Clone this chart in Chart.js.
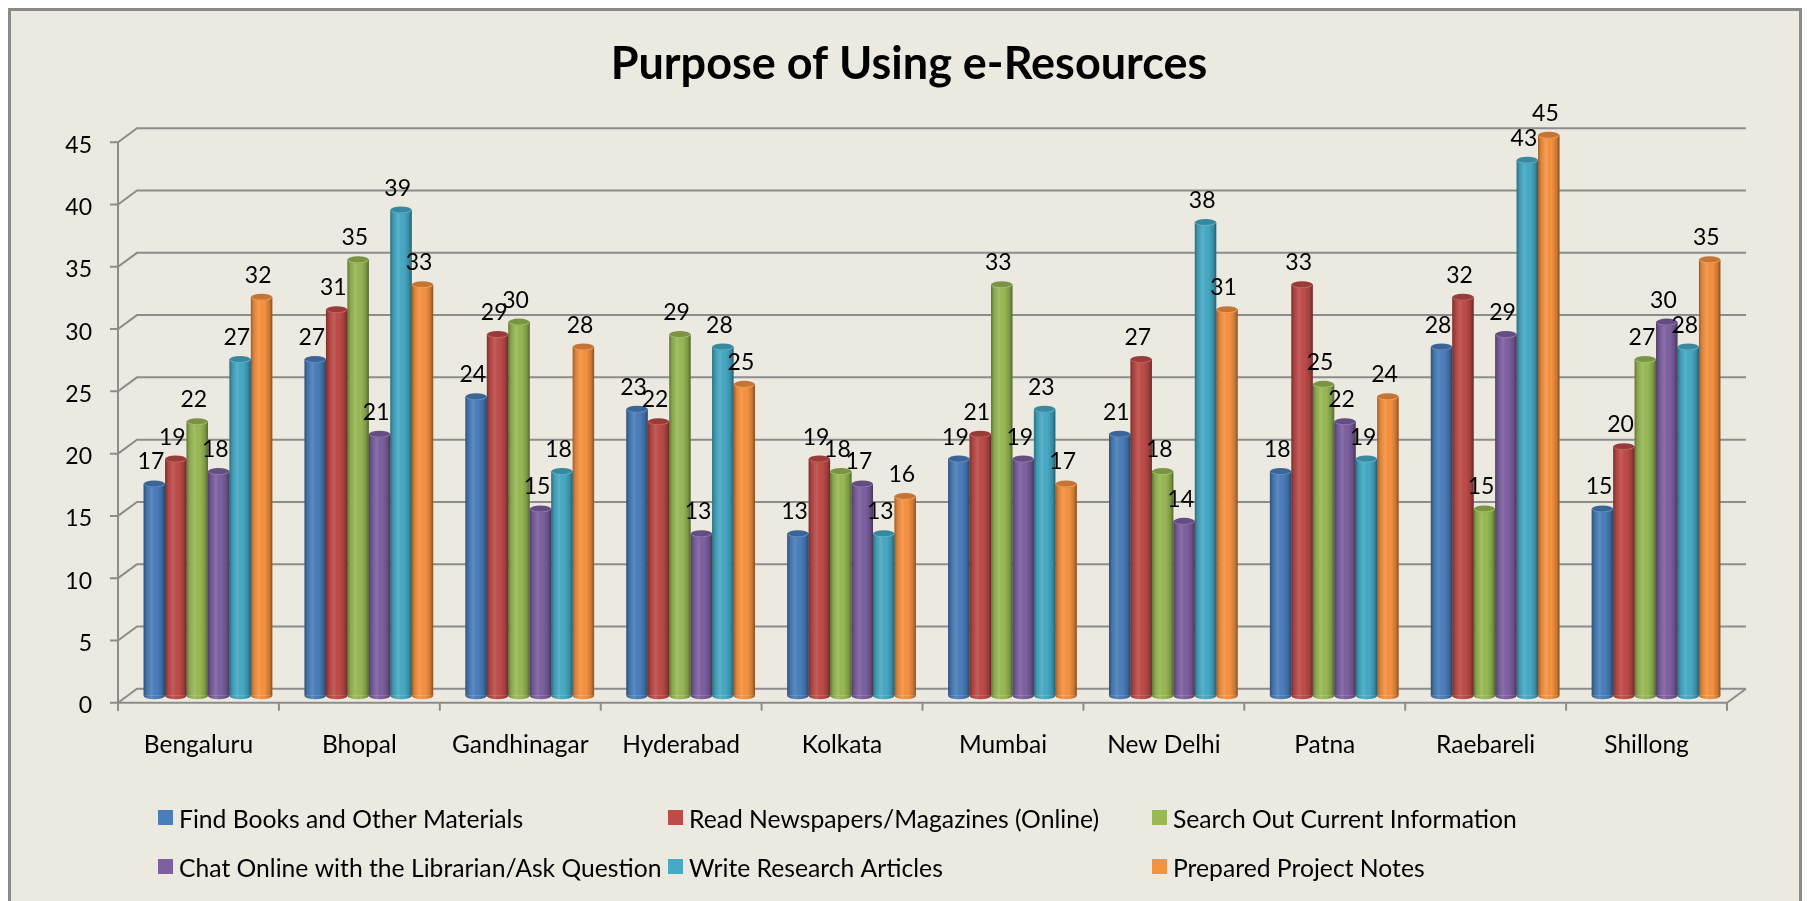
<!DOCTYPE html>
<html>
<head>
<meta charset="utf-8">
<title>Purpose of Using e-Resources</title>
<script src="https://cdn.jsdelivr.net/npm/chart.js@4.4.1/dist/chart.umd.min.js"></script>
<style>
  html, body { margin: 0; padding: 0; background: #ffffff; }
  #wrap { position: absolute; left: 0; top: 0; width: 1807px; height: 901px; }
</style>
</head>
<body>
<div id="wrap"><canvas id="chart" width="1807" height="901"></canvas></div>
<script>
// ---- data ----
const categories = ['Bengaluru', 'Bhopal', 'Gandhinagar', 'Hyderabad', 'Kolkata',
                    'Mumbai', 'New Delhi', 'Patna', 'Raebareli', 'Shillong'];
const findBooks     = [17, 27, 24, 23, 13, 19, 21, 18, 28, 15];
const readNews      = [19, 31, 29, 22, 19, 21, 27, 33, 32, 20];
const searchInfo    = [22, 35, 30, 29, 18, 33, 18, 25, 15, 27];
const chatLibrarian = [18, 21, 15, 13, 17, 19, 14, 22, 29, 30];
const writeArticles = [27, 39, 18, 28, 13, 23, 38, 19, 43, 28];
const projectNotes  = [32, 33, 28, 25, 16, 17, 31, 24, 45, 35];
const seriesNames = [
  'Find Books and Other Materials',
  'Read Newspapers/Magazines (Online)',
  'Search Out Current Information',
  'Chat Online with the Librarian/Ask Question',
  'Write Research Articles',
  'Prepared Project Notes'
];
const yTicks = [0, 5, 10, 15, 20, 25, 30, 35, 40, 45];

// ---- styling ----
const palette = ['#4A7EBB', '#BE4B48', '#98B954', '#7D60A0', '#46AAC5', '#F69240'];
const FONT = 'Lato, "Open Sans", sans-serif';
const BG = '#ECEAE0';
const GRID = '#8c8c8c';
const DEPTH_X = 19, DEPTH_Y = 14;   // receding offset of the back wall
const CAP_RY = 3.5;                 // vertical radius of cylinder ends

function shade(hex, f) {
  const n = parseInt(hex.slice(1), 16);
  const r = (n >> 16) & 255, g = (n >> 8) & 255, b = n & 255;
  const m = c => Math.max(0, Math.min(255, Math.round(f < 1 ? c * f : c + (255 - c) * (f - 1))));
  return `rgb(${m(r)},${m(g)},${m(b)})`;
}

// back wall, floor and axis frame drawn in pseudo 3D
const frame3d = {
  id: 'frame3d',
  beforeDraw(chart) {
    const { ctx, chartArea: a, scales: { x, y } } = chart;
    ctx.save();
    ctx.fillStyle = '#ffffff';
    ctx.fillRect(0, 0, chart.width, chart.height);
    ctx.fillStyle = BG;
    ctx.fillRect(8, 8, 1794, 900);
    ctx.strokeStyle = '#8a8a8a';
    ctx.lineWidth = 3;
    ctx.strokeRect(9.5, 9.5, 1791, 910);

    ctx.strokeStyle = GRID;
    ctx.lineWidth = 2;
    ctx.lineCap = 'butt';
    yTicks.forEach(v => {
      const py = y.getPixelForValue(v);
      ctx.beginPath();
      ctx.moveTo(a.left - 8, py);
      ctx.lineTo(a.left, py);
      ctx.lineTo(a.left + DEPTH_X, py - DEPTH_Y);
      ctx.lineTo(a.right + DEPTH_X, py - DEPTH_Y);
      ctx.stroke();
    });
    // value axis
    ctx.beginPath();
    ctx.moveTo(a.left, y.getPixelForValue(yTicks[yTicks.length - 1]));
    ctx.lineTo(a.left, a.bottom + 8);
    ctx.stroke();
    // floor front and right edges
    ctx.beginPath();
    ctx.moveTo(a.left, a.bottom);
    ctx.lineTo(a.right, a.bottom);
    ctx.lineTo(a.right + DEPTH_X, a.bottom - DEPTH_Y);
    ctx.stroke();
    // category separators
    const step = x.getPixelForValue(1) - x.getPixelForValue(0);
    for (let i = 0; i <= categories.length; i++) {
      const px = x.getPixelForValue(0) - step / 2 + step * i;
      ctx.beginPath();
      ctx.moveTo(px, a.bottom);
      ctx.lineTo(px, a.bottom + 8);
      ctx.stroke();
    }
    ctx.restore();
  },
  beforeDatasetsDraw(chart) {
    chart.ctx.save();
    chart.ctx.translate(DEPTH_X / 2, -DEPTH_Y / 2);
  },
  afterDatasetsDraw(chart) {
    const ctx = chart.ctx;
    const bars = [];
    chart.data.datasets.forEach((ds, di) => {
      const meta = chart.getDatasetMeta(di);
      meta.data.forEach((bar, i) => {
        const { x, y, base, width } = bar.getProps(['x', 'y', 'base', 'width'], true);
        bars.push({ x, y, base, width, color: ds.backgroundColor, value: ds.data[i] });
      });
    });
    bars.forEach(b => {
      const l = b.x - b.width / 2, rx = b.width / 2;
      // rounded bottom
      ctx.fillStyle = b.color;
      ctx.beginPath();
      ctx.ellipse(b.x, b.base, rx, CAP_RY, 0, 0, Math.PI);
      ctx.fill();
      // cylinder shading
      const g = ctx.createLinearGradient(l, 0, l + b.width, 0);
      g.addColorStop(0, 'rgba(0,0,0,0.36)');
      g.addColorStop(0.14, 'rgba(0,0,0,0.10)');
      g.addColorStop(0.38, 'rgba(255,255,255,0.10)');
      g.addColorStop(0.62, 'rgba(0,0,0,0)');
      g.addColorStop(0.86, 'rgba(0,0,0,0.18)');
      g.addColorStop(1, 'rgba(0,0,0,0.45)');
      ctx.fillStyle = g;
      ctx.fillRect(l, b.y, b.width, b.base - b.y);
      ctx.beginPath();
      ctx.ellipse(b.x, b.base, rx, CAP_RY, 0, 0, Math.PI);
      ctx.fill();
      // top cap
      ctx.fillStyle = shade(b.color, 0.8);
      ctx.beginPath();
      ctx.ellipse(b.x, b.y, rx, CAP_RY, 0, 0, Math.PI * 2);
      ctx.fill();
      ctx.strokeStyle = shade(b.color, 1.15);
      ctx.lineWidth = 1;
      ctx.beginPath();
      ctx.ellipse(b.x, b.y, rx - 0.5, CAP_RY - 0.5, 0, 0.15, Math.PI - 0.15);
      ctx.stroke();
    });
    // value labels
    ctx.fillStyle = '#000000';
    ctx.font = `23px ${FONT}`;
    ctx.textAlign = 'center';
    ctx.textBaseline = 'alphabetic';
    bars.forEach(b => {
      ctx.fillText(String(b.value), b.x - 3.4, b.y - 14.5);
    });
    ctx.restore();
  },
  afterDraw(chart) {
    const ctx = chart.ctx;
    ctx.save();
    // title
    ctx.fillStyle = '#000000';
    ctx.font = `bold 45px ${FONT}`;
    ctx.textAlign = 'center';
    ctx.textBaseline = 'alphabetic';
    ctx.fillText('Purpose of Using e-Resources', 909, 79);
    // legend, three columns by two rows
    const colX = [158, 668, 1152];
    const rowY = [810, 859];
    ctx.font = `24.7px ${FONT}`;
    ctx.textAlign = 'left';
    chart.data.datasets.forEach((ds, i) => {
      const cx = colX[i % 3], ty = rowY[Math.floor(i / 3)];
      ctx.fillStyle = ds.backgroundColor;
      ctx.fillRect(cx, ty, 15, 15);
      ctx.fillStyle = '#000000';
      ctx.fillText(ds.label, cx + 21, ty + 17.5);
    });
    ctx.restore();
  }
};

const seriesValues = [findBooks, readNews, searchInfo, chatLibrarian, writeArticles, projectNotes];

function build() {
  new Chart(document.getElementById('chart'), {
    type: 'bar',
    data: {
      labels: categories,
      datasets: seriesValues.map((vals, i) => ({
        label: seriesNames[i],
        data: vals,
        backgroundColor: palette[i],
        borderWidth: 0,
        clip: false,
        categoryPercentage: 0.8,
        barPercentage: 1.0
      }))
    },
    options: {
      responsive: false,
      devicePixelRatio: 1,
      animation: false,
      events: [],
      layout: { padding: { left: 0, right: 80, top: 142.3, bottom: 138.3 } },
      plugins: {
        legend: { display: false },
        title: { display: false },
        tooltip: { enabled: false }
      },
      scales: {
        x: {
          grid: { display: false, drawTicks: false },
          border: { display: false },
          ticks: { color: '#000000', font: { family: FONT, size: 24.5 }, padding: 28, maxRotation: 0, autoSkip: false },
          afterFit: s => { s.height = 60; }
        },
        y: {
          min: 0,
          max: 45,
          grid: { display: false, drawTicks: false },
          border: { display: false },
          ticks: { color: '#000000', font: { family: FONT, size: 23 }, padding: 26, labelOffset: 3 },
          afterBuildTicks: s => { s.ticks = yTicks.map(v => ({ value: v })); },
          afterFit: s => { s.width = 118; }
        }
      }
    },
    plugins: [frame3d]
  });
}

const fontLoads = [`24px Lato`, `23px Lato`, `bold 45px Lato`].map(f => document.fonts.load(f));
Promise.all(fontLoads).then(build, build);
</script>
</body>
</html>
